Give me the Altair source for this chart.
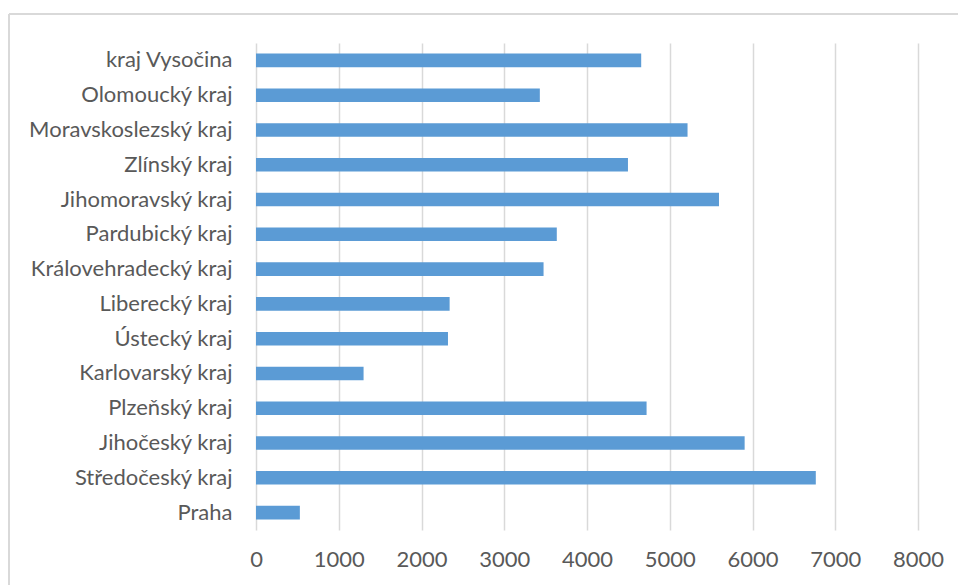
import altair as alt
import pandas as pd

# Regions, listed top to bottom as drawn
regions = [
    "kraj Vysočina",
    "Olomoucký kraj",
    "Moravskoslezský kraj",
    "Zlínský kraj",
    "Jihomoravský kraj",
    "Pardubický kraj",
    "Královehradecký kraj",
    "Liberecký kraj",
    "Ústecký kraj",
    "Karlovarský kraj",
    "Plzeňský kraj",
    "Jihočeský kraj",
    "Středočeský kraj",
    "Praha",
]
values = [4655, 3430, 5215, 4495, 5595, 3635, 3475, 2340, 2320, 1300, 4720, 5905, 6765, 530]

x_ticks = [0, 1000, 2000, 3000, 4000, 5000, 6000, 7000, 8000]

df = pd.DataFrame({"region": regions, "value": values})

FONT = "Lato"
TEXT = "#595959"
GRID = "#d9d9d9"

PAD_LEFT = 256
PAD_TOP = 43
W = 662
H = 487
PAD_RIGHT = 958 - PAD_LEFT - W
PAD_BOTTOM = 585 - PAD_TOP - H

bars = alt.Chart(df).mark_bar(color="#5b9bd5").encode(
    x=alt.X(
        "value:Q",
        scale=alt.Scale(domain=[0, 8000], nice=False),
        axis=alt.Axis(
            values=x_ticks,
            format="d",
            title=None,
            grid=True,
            gridColor=GRID,
            gridWidth=1.5,
            domain=False,
            ticks=False,
            labelFont=FONT,
            labelFontSize=22,
            labelColor=TEXT,
            labelPadding=19,
            labelOverlap=False,
            labelFlush=False,
        ),
    ),
    y=alt.Y(
        "region:N",
        sort=regions,
        scale=alt.Scale(paddingInner=0.61, paddingOuter=0.305),
        axis=alt.Axis(
            title=None,
            domain=False,
            ticks=False,
            labelFont=FONT,
            labelFontSize=22,
            labelColor=TEXT,
            labelPadding=24,
            labelLimit=400,
        ),
    ),
)

# Light frame around the chart
frame_top = alt.Chart(df).mark_rule(color="#d9d9d9", strokeWidth=1.5).encode(
    x=alt.value(9 - PAD_LEFT), x2=alt.value(960 - PAD_LEFT), y=alt.value(14 - PAD_TOP)
)
frame_left = alt.Chart(df).mark_rule(color="#d9d9d9", strokeWidth=1.5).encode(
    x=alt.value(9 - PAD_LEFT), y=alt.value(14 - PAD_TOP), y2=alt.value(590 - PAD_TOP)
)

chart = (
    alt.layer(bars, frame_top, frame_left)
    .properties(
        width=W,
        height=H,
        autosize=alt.AutoSizeParams(type="none"),
        padding={"left": PAD_LEFT, "top": PAD_TOP, "right": PAD_RIGHT, "bottom": PAD_BOTTOM},
        background="white",
    )
    .configure_view(stroke=None)
)

chart.save("out.html", embed_options={"renderer": "svg", "actions": False})
